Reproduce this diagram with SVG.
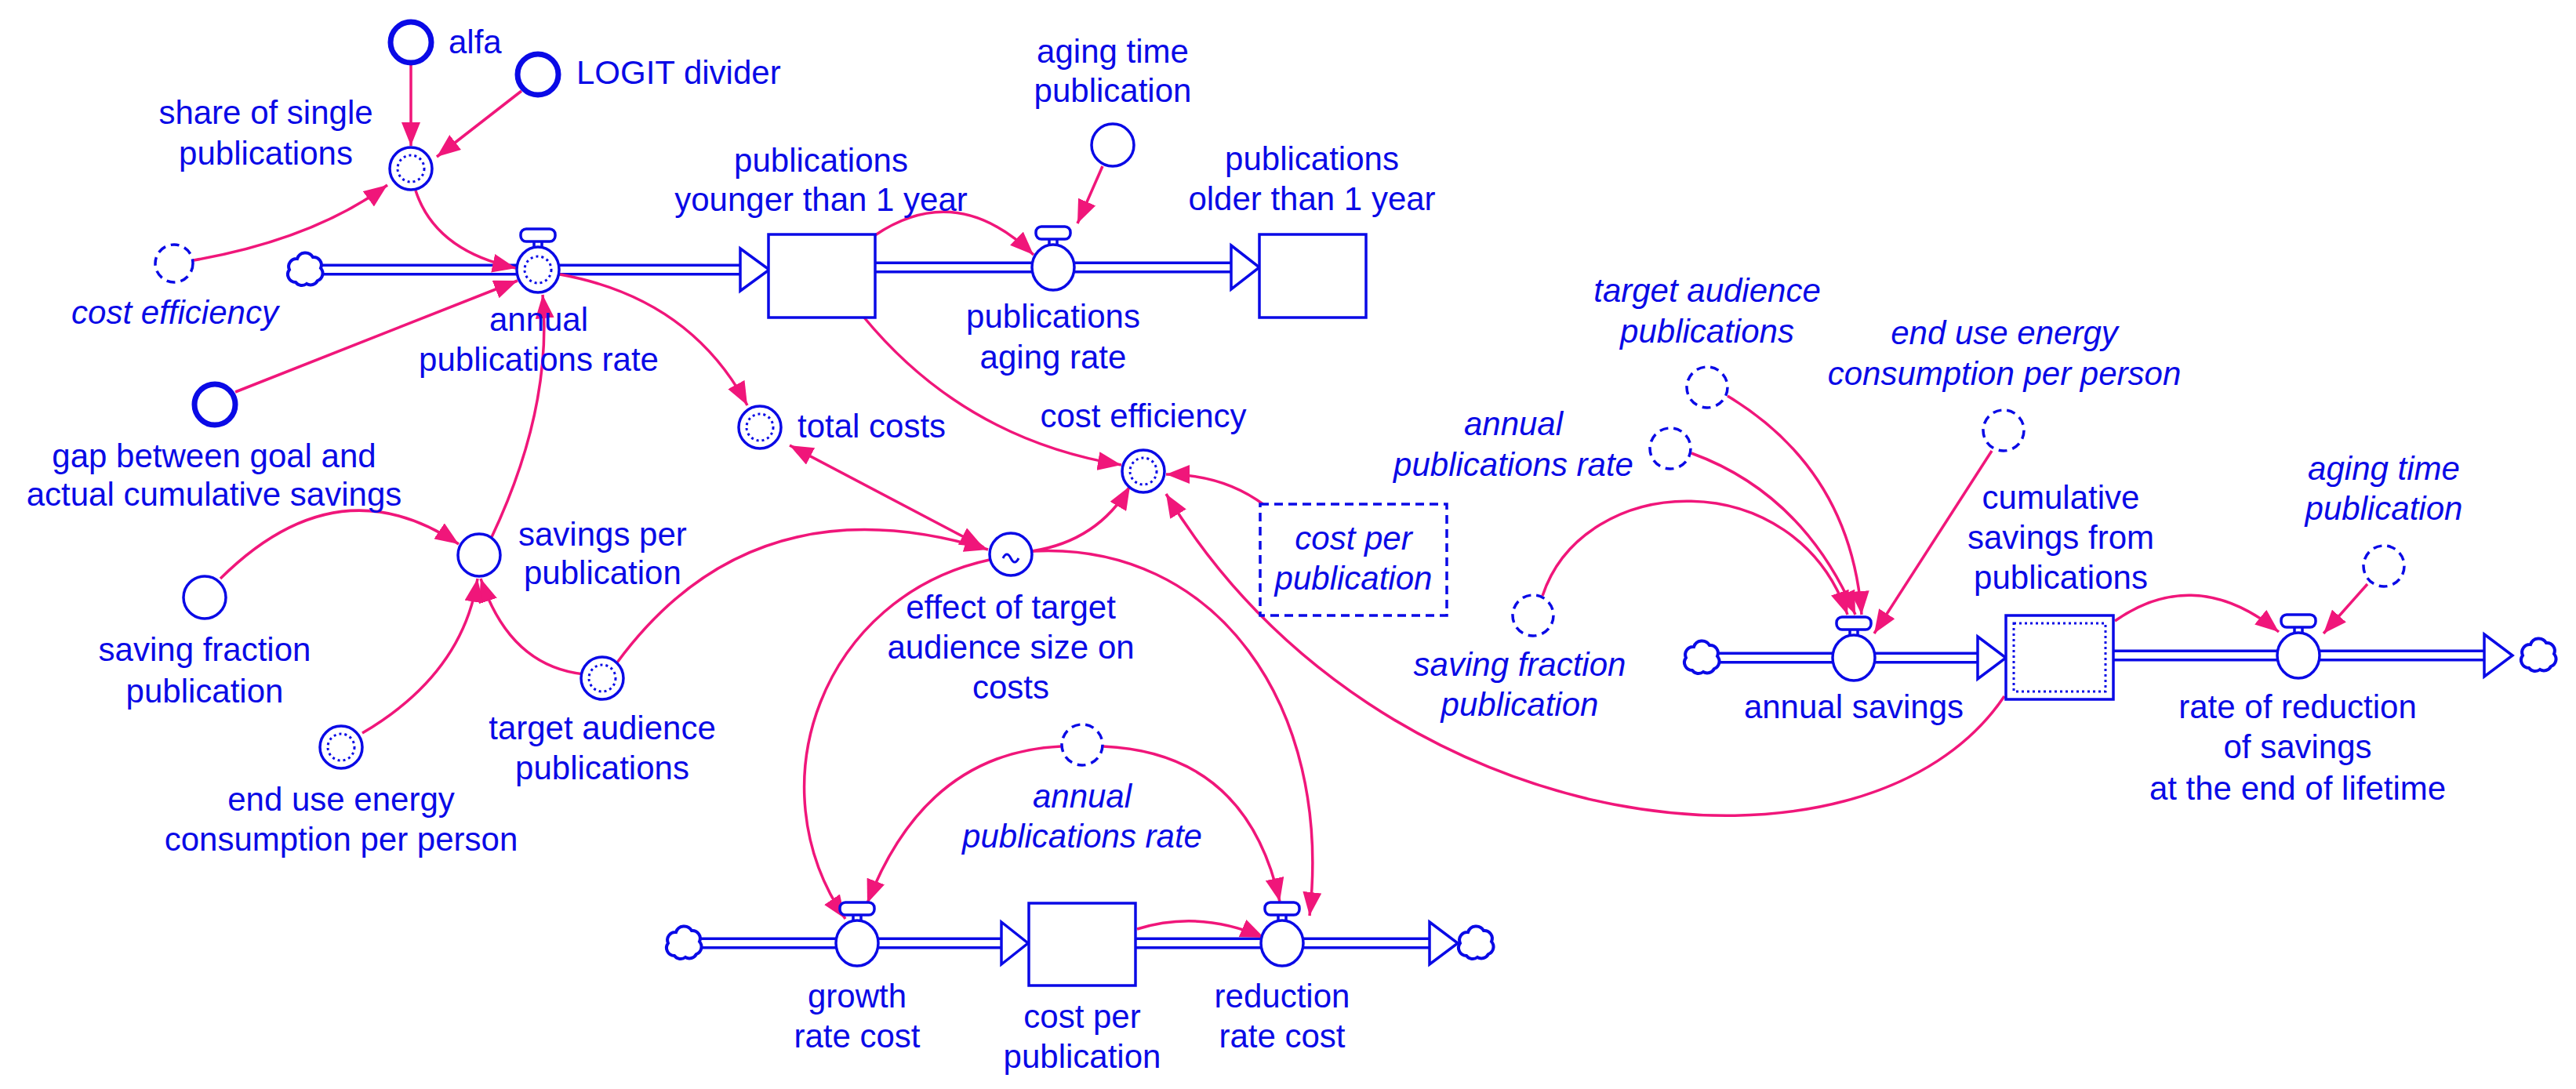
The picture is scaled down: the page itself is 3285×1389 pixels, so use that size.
<svg xmlns="http://www.w3.org/2000/svg" width="3285" height="1389" viewBox="0 0 3285 1389">
<defs>
<style>
.t{font-family:"Liberation Sans",Arial,sans-serif;font-size:42px;fill:#0a0ae6;text-anchor:middle}
.i{font-style:italic}
.s{text-anchor:start}
.c{fill:none;stroke:#f0167a;stroke-width:3.5}
.n{fill:#fff;stroke:#0a0ae6;stroke-width:3.5}
.b{fill:#fff;stroke:#0a0ae6;stroke-width:7}
.g{fill:#fff;stroke:#0a0ae6;stroke-width:3.5;stroke-dasharray:11 7}
.d{fill:none;stroke:#0a0ae6;stroke-width:3;stroke-dasharray:3 4}
.po{fill:none;stroke:#0a0ae6;stroke-width:15}
.pi{fill:none;stroke:#fff;stroke-width:8}
</style>
<marker id="a" markerUnits="userSpaceOnUse" markerWidth="32" markerHeight="24" refX="30" refY="12" orient="auto-start-reverse"><path d="M0,0 L30,12 L0,24 z" fill="#f0167a"/></marker>
<g id="cloud"><path d="M-14,16 a10,10 0 0 1 -8,-16 a10,10 0 0 1 10,-14 a11,11 0 0 1 20,-2 a10,10 0 0 1 10,14 a10,10 0 0 1 -4,16 a10,10 0 0 1 -14,4 a10,10 0 0 1 -14,-2 z" fill="#fff" stroke="#0a0ae6" stroke-width="4"/></g>
<g id="valve"><rect x="-5" y="-40" width="10" height="16" fill="#fff" stroke="#0a0ae6" stroke-width="3.5"/><rect x="-22" y="-52" width="44" height="16" rx="7" fill="#fff" stroke="#0a0ae6" stroke-width="3.5"/><ellipse rx="27" ry="29" fill="#fff" stroke="#0a0ae6" stroke-width="3.5"/></g>
</defs>
<rect width="3285" height="1389" fill="#fff"/>

<g id="flows">
<path class="po" d="M410,344 H944 M1116,341 H1570 M892,1203 H1277 M1448,1203 H1823 M2190,839 H2522 M2695,836 H3168"/>
<path class="pi" d="M408,344 H946 M1116,341 H1572 M890,1203 H1279 M1448,1203 H1825 M2188,839 H2524 M2695,836 H3170"/>
<path class="n" d="M944,317 L981,344 L944,371 z M1570,313 L1606,341 L1570,369 z M1277,1176 L1311,1203 L1277,1230 z M1823,1176 L1859,1203 L1823,1230 z M2522,812 L2558,839 L2522,866 z M3168,809 L3204,836 L3168,863 z"/>
<use href="#cloud" x="391" y="344"/><use href="#cloud" x="874" y="1203"/><use href="#cloud" x="1884" y="1203"/><use href="#cloud" x="2172" y="839"/><use href="#cloud" x="3239" y="836"/>
</g>

<g id="connectors">
<path class="c" marker-end="url(#a)" d="M524,82 L524,186"/>
<path class="c" marker-end="url(#a)" d="M665,116 L557,200"/>
<path class="c" marker-end="url(#a)" d="M247,332 Q400,305 494,236"/>
<path class="c" marker-end="url(#a)" d="M530,243 Q555,320 658,342"/>
<path class="c" marker-end="url(#a)" d="M300,500 L660,358"/>
<path class="c" marker-end="url(#a)" d="M627,685 Q705,520 692,376"/>
<path class="c" marker-end="url(#a)" d="M714,350 Q880,380 953,517"/>
<path class="c" marker-end="url(#a)" d="M1116,300 Q1220,230 1318,325"/>
<path class="c" marker-end="url(#a)" d="M1406,212 L1374,285"/>
<path class="c" marker-end="url(#a)" d="M1102,405 Q1230,560 1430,593"/>
<path class="c" marker-start="url(#a)" marker-end="url(#a)" d="M1007,568 L1254,698"/>
<path class="c" marker-end="url(#a)" d="M745,860 Q650,850 613,738"/>
<path class="c" marker-end="url(#a)" d="M787,845 Q960,610 1260,701"/>
<path class="c" marker-end="url(#a)" d="M281,738 Q430,590 585,694"/>
<path class="c" marker-end="url(#a)" d="M462,935 Q590,860 609,738"/>
<path class="c" marker-end="url(#a)" d="M1316,703 Q1400,690 1441,620"/>
<path class="c" marker-end="url(#a)" d="M1612,644 Q1560,605 1487,605"/>
<path class="c" marker-end="url(#a)" d="M2556,888 C2380,1150 1760,1080 1487,630"/>
<path class="c" marker-end="url(#a)" d="M1262,714 C1050,760 960,1000 1078,1172"/>
<path class="c" marker-end="url(#a)" d="M1316,703 C1550,690 1700,900 1670,1168"/>
<path class="c" marker-end="url(#a)" d="M1353,952 Q1180,960 1106,1152"/>
<path class="c" marker-end="url(#a)" d="M1407,952 Q1590,960 1632,1150"/>
<path class="c" marker-end="url(#a)" d="M1450,1185 Q1530,1160 1612,1196"/>
<path class="c" marker-end="url(#a)" d="M2203,505 Q2360,600 2374,784"/>
<path class="c" marker-end="url(#a)" d="M2157,578 Q2300,630 2366,784"/>
<path class="c" marker-end="url(#a)" d="M1967,760 C2020,600 2290,590 2356,784"/>
<path class="c" marker-end="url(#a)" d="M2540,575 L2390,808"/>
<path class="c" marker-end="url(#a)" d="M2697,792 Q2800,720 2906,806"/>
<path class="c" marker-end="url(#a)" d="M3019,745 L2963,808"/>
</g>

<g id="alfa"><circle class="b" cx="524" cy="54" r="26"/><text class="t s" x="572" y="68">alfa</text></g>
<g id="logit"><circle class="b" cx="686" cy="95" r="26"/><text class="t s" x="735" y="107">LOGIT divider</text></g>
<g id="share"><circle class="n" cx="524" cy="215" r="27"/><circle class="d" cx="524" cy="215" r="17"/><text class="t" x="339" y="158">share of single</text><text class="t" x="339" y="210">publications</text></g>
<g id="costeff_ghost"><circle class="g" cx="222" cy="336" r="24"/><text class="t i" x="223" y="413">cost efficiency</text></g>
<g id="annual_rate"><use href="#valve" x="686" y="344"/><circle class="d" cx="686" cy="344" r="17"/><text class="t" x="687" y="422">annual</text><text class="t" x="687" y="473">publications rate</text></g>
<g id="gap"><circle class="b" cx="274" cy="516" r="26"/><text class="t" x="273" y="596">gap between goal and</text><text class="t" x="273" y="645">actual cumulative savings</text></g>
<g id="younger"><rect class="n" x="980" y="299" width="136" height="106"/><text class="t" x="1047" y="219">publications</text><text class="t" x="1047" y="269">younger than 1 year</text></g>
<g id="aging_rate"><use href="#valve" x="1343" y="341"/><text class="t" x="1343" y="418">publications</text><text class="t" x="1343" y="470">aging rate</text></g>
<g id="aging_time"><circle class="n" cx="1419" cy="185" r="27"/><text class="t" x="1419" y="80">aging time</text><text class="t" x="1419" y="130">publication</text></g>
<g id="older"><rect class="n" x="1606" y="299" width="136" height="106"/><text class="t" x="1673" y="217">publications</text><text class="t" x="1673" y="268">older than 1 year</text></g>
<g id="total_costs"><circle class="n" cx="969" cy="545" r="27"/><circle class="d" cx="969" cy="545" r="17"/><text class="t s" x="1017" y="558">total costs</text></g>
<g id="cost_eff"><circle class="n" cx="1458" cy="601" r="27"/><circle class="d" cx="1458" cy="601" r="17"/><text class="t" x="1458" y="545">cost efficiency</text></g>
<g id="cpp_ghost"><rect class="g" x="1607" y="643" width="238" height="142"/><text class="t i" x="1726" y="701">cost per</text><text class="t i" x="1726" y="752">publication</text></g>
<g id="effect"><circle class="n" cx="1289" cy="707" r="27"/><path d="M1279,712 q5,-10 10,0 t10,0" fill="none" stroke="#0a0ae6" stroke-width="3"/><text class="t" x="1289" y="789">effect of target</text><text class="t" x="1289" y="840">audience size on</text><text class="t" x="1289" y="891">costs</text></g>
<g id="savings_per"><circle class="n" cx="611" cy="708" r="27"/><text class="t s" x="661" y="696">savings per</text><text class="t s" x="668" y="745">publication</text></g>
<g id="saving_fraction"><circle class="n" cx="261" cy="762" r="27"/><text class="t" x="261" y="843">saving fraction</text><text class="t" x="261" y="896">publication</text></g>
<g id="target_aud"><circle class="n" cx="768" cy="865" r="27"/><circle class="d" cx="768" cy="865" r="17"/><text class="t" x="768" y="943">target audience</text><text class="t" x="768" y="994">publications</text></g>
<g id="end_use"><circle class="n" cx="435" cy="953" r="27"/><circle class="d" cx="435" cy="953" r="17"/><text class="t" x="435" y="1034">end use energy</text><text class="t" x="435" y="1085">consumption per person</text></g>
<g id="apr_ghost"><circle class="g" cx="1380" cy="950" r="26"/><text class="t i" x="1380" y="1030">annual</text><text class="t i" x="1380" y="1081">publications rate</text></g>
<g id="growth"><use href="#valve" x="1093" y="1203"/><text class="t" x="1093" y="1285">growth</text><text class="t" x="1093" y="1336">rate cost</text></g>
<g id="cpp"><rect class="n" x="1312" y="1152" width="136" height="105"/><text class="t" x="1380" y="1311">cost per</text><text class="t" x="1380" y="1362">publication</text></g>
<g id="reduction"><use href="#valve" x="1635" y="1203"/><text class="t" x="1635" y="1285">reduction</text><text class="t" x="1635" y="1336">rate cost</text></g>
<g id="tap_ghost"><circle class="g" cx="2177" cy="494" r="26"/><text class="t i" x="2177" y="385">target audience</text><text class="t i" x="2177" y="437">publications</text></g>
<g id="apr_ghost2"><circle class="g" cx="2130" cy="572" r="26"/><text class="t i" x="1930" y="555">annual</text><text class="t i" x="1930" y="607">publications rate</text></g>
<g id="eu_ghost"><circle class="g" cx="2555" cy="549" r="26"/><text class="t i" x="2556" y="439">end use energy</text><text class="t i" x="2556" y="491">consumption per person</text></g>
<g id="sf_ghost"><circle class="g" cx="1955" cy="785" r="26"/><text class="t i" x="1938" y="862">saving fraction</text><text class="t i" x="1938" y="913">publication</text></g>
<g id="annual_savings"><use href="#valve" x="2364" y="839"/><text class="t" x="2364" y="916">annual savings</text></g>
<g id="cumulative"><rect class="n" x="2558" y="785" width="137" height="107"/><rect class="d" x="2568" y="795" width="117" height="87"/><text class="t" x="2628" y="649">cumulative</text><text class="t" x="2628" y="700">savings from</text><text class="t" x="2628" y="751">publications</text></g>
<g id="rate_reduction"><use href="#valve" x="2931" y="836"/><text class="t" x="2930" y="916">rate of reduction</text><text class="t" x="2930" y="967">of savings</text><text class="t" x="2930" y="1020">at the end of lifetime</text></g>
<g id="atp_ghost"><circle class="g" cx="3040" cy="722" r="26"/><text class="t i" x="3040" y="612">aging time</text><text class="t i" x="3040" y="663">publication</text></g>
</svg>
